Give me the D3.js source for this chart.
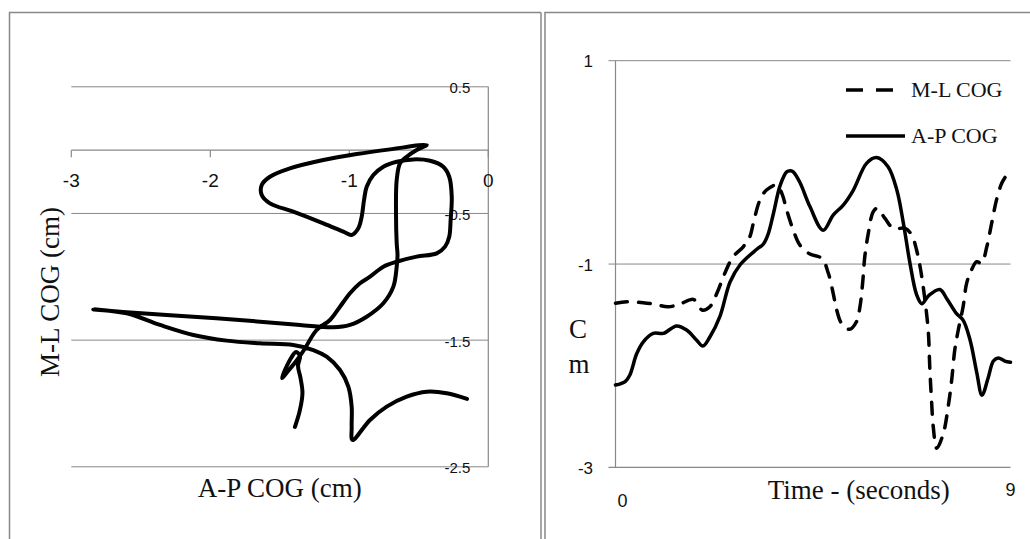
<!DOCTYPE html>
<html>
<head>
<meta charset="utf-8">
<script src="https://cdn.jsdelivr.net/npm/d3@7"></script>
<style>
  body { margin: 0; background: #fff; }
  svg { display: block; }
</style>
</head>
<body>
<svg id="chart" width="1030" height="539"></svg>
<script>
// Left panel: A-P COG (x) against M-L COG (y), in path order
const pathAP = [-1.391, -1.355, -1.337, -1.351, -1.369, -1.355, -1.383, -1.419, -1.484, -1.434, -1.376, -1.326,
  -1.235, -1.139, -1.067, -0.995, -0.923, -0.851, -0.755, -0.659, -0.515, -0.371, -0.311, -0.281, -0.271, -0.263,
  -0.281, -0.324, -0.419, -0.540, -0.659, -0.755, -0.827, -0.875, -0.894, -0.911, -0.935, -0.983, -1.043, -1.187,
  -1.403, -1.571, -1.630, -1.630, -1.571, -1.427, -1.187, -0.947, -0.707, -0.443, -0.515, -0.587, -0.635, -0.659,
  -0.664, -0.659, -0.653, -0.659, -0.683, -0.755, -0.875, -0.995, -1.115, -1.355, -1.642, -2.122, -2.601, -2.842,
  -2.601, -2.362, -2.122, -1.882, -1.642, -1.403, -1.259, -1.163, -1.067, -1.007, -0.983, -0.983, -0.977, -0.851,
  -0.731, -0.587, -0.443, -0.299, -0.153]
const pathML = [-2.185, -2.051, -1.917, -1.799, -1.704, -1.625, -1.594, -1.641, -1.799, -1.736, -1.657, -1.578,
  -1.420, -1.341, -1.236, -1.130, -1.051, -0.999, -0.920, -0.881, -0.841, -0.815, -0.762, -0.684, -0.552, -0.368,
  -0.210, -0.131, -0.084, -0.073, -0.092, -0.131, -0.197, -0.289, -0.394, -0.526, -0.617, -0.670, -0.644, -0.578,
  -0.486, -0.420, -0.354, -0.275, -0.210, -0.144, -0.078, -0.031, 0.006, 0.040, 0.001, -0.052, -0.104, -0.236,
  -0.499, -0.736, -0.828, -0.920, -1.078, -1.209, -1.315, -1.380, -1.399, -1.380, -1.354, -1.315, -1.280, -1.257,
  -1.288, -1.380, -1.459, -1.504, -1.525, -1.538, -1.578, -1.631, -1.736, -1.867, -2.025, -2.183, -2.288, -2.130,
  -2.025, -1.946, -1.907, -1.919, -1.964]

// Right panel: time series
const timeAP = [0, 0.22, 0.33, 0.48, 0.63, 0.86, 1.09, 1.39, 1.62, 1.85, 1.99, 2.15, 2.38, 2.61, 2.84, 3.22, 3.37,
  3.48, 3.60, 3.75, 3.90, 3.99, 4.05, 4.20, 4.43, 4.73, 4.96, 5.19, 5.42, 5.72, 5.95, 6.21, 6.41, 6.56, 6.71, 6.86,
  6.98, 7.14, 7.39, 7.56, 7.76, 7.92, 8.08, 8.23, 8.35, 8.49, 8.61, 8.72, 8.87, 9.0]
const valueAP = [-2.190, -2.156, -2.088, -1.885, -1.767, -1.682, -1.682, -1.609, -1.649, -1.750, -1.806, -1.717,
  -1.514, -1.176, -1.007, -0.854, -0.803, -0.703, -0.500, -0.229, -0.094, -0.083, -0.094, -0.196, -0.435, -0.668,
  -0.518, -0.420, -0.272, -0.010, 0.047, -0.043, -0.272, -0.600, -0.993, -1.300, -1.391, -1.308, -1.250, -1.349,
  -1.482, -1.551, -1.749, -2.065, -2.290, -2.121, -1.954, -1.923, -1.954, -1.966]

const timeML = [0, 0.26, 0.63, 0.86, 1.20, 1.47, 1.77, 1.89, 1.97, 2.15, 2.31, 2.49, 2.68, 2.91, 3.06, 3.14, 3.29,
  3.44, 3.67, 3.79, 3.90, 4.05, 4.20, 4.43, 4.70, 4.85, 4.96, 5.04, 5.15, 5.33, 5.49, 5.57, 5.63, 5.68, 5.76, 5.87,
  5.96, 6.14, 6.33, 6.60, 6.75, 6.86, 6.94, 7.00, 7.07, 7.13, 7.16, 7.20, 7.24, 7.32, 7.47, 7.58, 7.66, 7.73, 7.81,
  7.92, 8.00, 8.11, 8.23, 8.34, 8.46, 8.57, 8.68, 8.80, 8.91, 8.98]
const valueML = [-1.386, -1.371, -1.381, -1.393, -1.420, -1.393, -1.347, -1.403, -1.452, -1.420, -1.288, -1.091,
  -0.928, -0.830, -0.732, -0.600, -0.371, -0.272, -0.223, -0.305, -0.469, -0.666, -0.813, -0.902, -0.944, -1.091,
  -1.288, -1.452, -1.583, -1.642, -1.567, -1.420, -1.190, -0.928, -0.698, -0.486, -0.452, -0.551, -0.649, -0.649,
  -0.715, -0.862, -1.027, -1.190, -1.420, -1.681, -2.010, -2.337, -2.600, -2.812, -2.665, -2.403, -2.141, -1.846,
  -1.649, -1.420, -1.190, -1.059, -0.977, -0.993, -0.830, -0.600, -0.371, -0.206, -0.125, -0.081]

const leftXTicks = [-3, -2, -1, 0]
const leftYTicks = [0.5, -0.5, -1.5, -2.5]
const rightYTicks = [1, -1, -3]
const rightXLabels = [0, 9]

const svg = d3.select("#chart")
const gray = "#888"
const ink = "#111"
const serif = "'Liberation Serif', 'Times New Roman', serif"
const sans = "'Liberation Sans', Arial, sans-serif"

// Panel frames
svg.append("path")
  .attr("d", "M9.5,545 V12.5 H541")
  .attr("fill", "none").attr("stroke", gray).attr("stroke-width", 1.5)
svg.append("path")
  .attr("d", "M541,12.5 V545")
  .attr("fill", "none").attr("stroke", gray).attr("stroke-width", 1.5)
svg.append("path")
  .attr("d", "M545,545 V12.5 H1035")
  .attr("fill", "none").attr("stroke", gray).attr("stroke-width", 1.5)

// ---------- Left chart ----------
const xL = d3.scaleLinear().domain([-3, 0]).range([71.3, 488.3])
const yL = d3.scaleLinear().domain([-2.5, 0.5]).range([466.8, 86.8])
const left = svg.append("g")

left.selectAll(".gridL")
  .data(leftYTicks)
  .enter().append("line")
  .attr("x1", xL(-3)).attr("x2", xL(0))
  .attr("y1", d => yL(d)).attr("y2", d => yL(d))
  .attr("stroke", gray).attr("stroke-width", 1)

// x axis through zero with ticks pointing down
left.append("line")
  .attr("x1", xL(-3)).attr("x2", xL(0))
  .attr("y1", yL(0)).attr("y2", yL(0))
  .attr("stroke", gray).attr("stroke-width", 1.2)
left.selectAll(".tickL")
  .data(leftXTicks)
  .enter().append("line")
  .attr("x1", d => xL(d)).attr("x2", d => xL(d))
  .attr("y1", yL(0)).attr("y2", yL(0) + 7)
  .attr("stroke", gray).attr("stroke-width", 1.2)
left.append("line")
  .attr("x1", xL(0)).attr("x2", xL(0))
  .attr("y1", yL(0.5)).attr("y2", yL(-2.5))
  .attr("stroke", gray).attr("stroke-width", 1.2)

left.selectAll(".xlabL")
  .data(leftXTicks)
  .enter().append("text")
  .attr("x", d => xL(d)).attr("y", yL(0) + 30)
  .attr("text-anchor", "middle").attr("dominant-baseline", "central")
  .attr("font-family", sans).attr("font-size", 19).attr("fill", ink)
  .text(d => d)
left.selectAll(".ylabL")
  .data(leftYTicks)
  .enter().append("text")
  .attr("x", xL(0) - 18).attr("y", d => yL(d) + 1)
  .attr("text-anchor", "end").attr("dominant-baseline", "central")
  .attr("font-family", sans).attr("font-size", 15).attr("fill", ink)
  .text(d => d)

left.append("path")
  .datum(pathAP.map((x, i) => [x, pathML[i]]))
  .attr("fill", "none").attr("stroke", "#000").attr("stroke-width", 4)
  .attr("stroke-linejoin", "round").attr("stroke-linecap", "round")
  .attr("d", d3.line().x(d => xL(d[0])).y(d => yL(d[1])).curve(d3.curveCatmullRom.alpha(0.5)))

left.append("text")
  .attr("x", (xL(-3) + xL(0)) / 2).attr("y", 497)
  .attr("text-anchor", "middle")
  .attr("font-family", serif).attr("font-size", 27).attr("fill", ink)
  .text("A-P COG (cm)")
left.append("text")
  .attr("transform", "translate(59,292) rotate(-90)")
  .attr("text-anchor", "middle")
  .attr("font-family", serif).attr("font-size", 27).attr("fill", ink)
  .text("M-L COG (cm)")

// ---------- Right chart ----------
const xR = d3.scaleLinear().domain([0, 9]).range([615.5, 1010.5])
const yR = d3.scaleLinear().domain([-3, 1]).range([467.4, 60.7])
const right = svg.append("g")

right.selectAll(".gridR")
  .data(rightYTicks)
  .enter().append("line")
  .attr("x1", xR(0) - 7).attr("x2", xR(9))
  .attr("y1", d => yR(d)).attr("y2", d => yR(d))
  .attr("stroke", gray).attr("stroke-width", d => d === -3 ? 1.2 : 1)
right.append("line")
  .attr("x1", xR(0)).attr("x2", xR(0))
  .attr("y1", yR(1)).attr("y2", yR(-3))
  .attr("stroke", gray).attr("stroke-width", 1.2)

right.selectAll(".ylabR")
  .data(rightYTicks)
  .enter().append("text")
  .attr("x", 593).attr("y", d => yR(d) + 1)
  .attr("text-anchor", "end").attr("dominant-baseline", "central")
  .attr("font-family", sans).attr("font-size", 17).attr("fill", ink)
  .text(d => d)
right.selectAll(".xlabR")
  .data(rightXLabels)
  .enter().append("text")
  .attr("x", d => d === 0 ? xR(d) + 7 : xR(d))
  .attr("y", d => d === 0 ? 501 : 490)
  .attr("text-anchor", "middle").attr("dominant-baseline", "central")
  .attr("font-family", sans).attr("font-size", 18).attr("fill", ink)
  .text(d => d)

const lineR = d3.line().x(d => xR(d[0])).y(d => yR(d[1])).curve(d3.curveCatmullRom.alpha(0.5))
right.append("path")
  .datum(timeML.map((t, i) => [t, valueML[i]]))
  .attr("fill", "none").attr("stroke", "#000").attr("stroke-width", 3.5)
  .attr("stroke-dasharray", "12,11").attr("stroke-linecap", "round")
  .attr("d", lineR)
right.append("path")
  .datum(timeAP.map((t, i) => [t, valueAP[i]]))
  .attr("fill", "none").attr("stroke", "#000").attr("stroke-width", 3.5)
  .attr("stroke-linejoin", "round").attr("stroke-linecap", "round")
  .attr("d", lineR)

right.append("text")
  .attr("x", 858.7).attr("y", 499)
  .attr("text-anchor", "middle")
  .attr("font-family", serif).attr("font-size", 27).attr("fill", ink)
  .text("Time - (seconds)")
right.append("text")
  .attr("x", 578).attr("y", 338)
  .attr("text-anchor", "middle")
  .attr("font-family", serif).attr("font-size", 27).attr("fill", ink)
  .text("C")
right.append("text")
  .attr("x", 579).attr("y", 373)
  .attr("text-anchor", "middle")
  .attr("font-family", serif).attr("font-size", 27).attr("fill", ink)
  .text("m")

// Legend
const legend = right.append("g")
legend.append("line")
  .attr("x1", 846).attr("x2", 894).attr("y1", 90).attr("y2", 90)
  .attr("stroke", "#000").attr("stroke-width", 3.5).attr("stroke-dasharray", "17,13")
legend.append("line")
  .attr("x1", 846).attr("x2", 905).attr("y1", 136).attr("y2", 136)
  .attr("stroke", "#000").attr("stroke-width", 3.5)
legend.append("text")
  .attr("x", 911).attr("y", 97)
  .attr("font-family", serif).attr("font-size", 22).attr("fill", ink)
  .text("M-L COG")
legend.append("text")
  .attr("x", 911).attr("y", 143)
  .attr("font-family", serif).attr("font-size", 22).attr("fill", ink)
  .text("A-P COG")
</script>
</body>
</html>
